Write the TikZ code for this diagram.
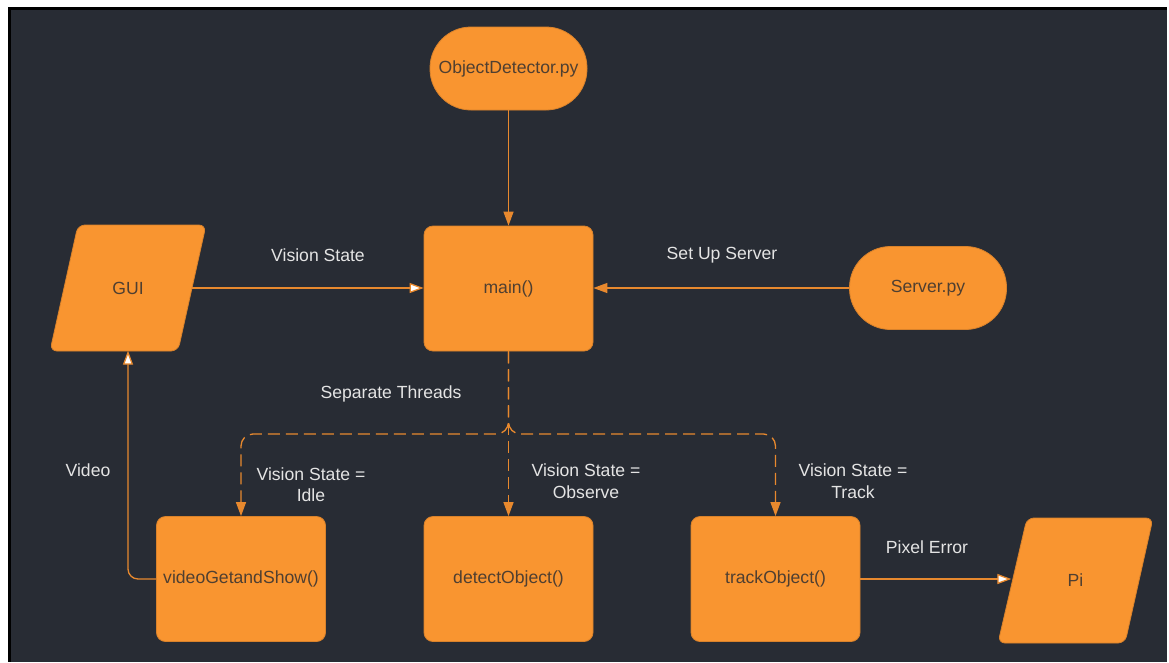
\documentclass[tikz,border=0pt]{standalone}
\usepackage{fontspec}
\setmainfont{Liberation Sans}
\usetikzlibrary{arrows.meta}
\definecolor{bg}{HTML}{282C34}
\definecolor{box}{HTML}{F99530}
\definecolor{boxline}{HTML}{D9822B}
\definecolor{wire}{HTML}{E8892E}
\definecolor{boxtext}{HTML}{4F3F31}
\definecolor{labeltext}{HTML}{E4E4E4}

\begin{document}
\begin{tikzpicture}[x=1pt,y=-1pt,
  every node/.style={font=\fontsize{17.6}{21.5}\selectfont},
  proc/.style={rectangle, rounded corners=9pt, fill=box, draw=boxline, line width=0.8pt,
    minimum width=169pt, minimum height=125pt, text=boxtext, inner sep=0pt},
  term/.style={rectangle, rounded corners=41pt, fill=box, draw=boxline, line width=0.8pt,
    minimum width=157pt, minimum height=83pt, text=boxtext, inner sep=0pt},
  ioshape/.style={rectangle, minimum width=128pt, minimum height=125pt, text=boxtext, inner sep=0pt},
  ioframe/.style={fill=box, draw=boxline, line width=0.8pt, rounded corners=7pt},
  lbl/.style={text=labeltext, align=center},
  wire/.style={draw=wire, line width=1.3pt},
  whitearrow/.style={wire, -{Triangle[length=14pt,width=10pt,fill=white]}},
  fullarrow/.style={wire, -{Triangle[length=14pt,width=10pt,fill=wire]}},
  thread/.style={wire, dash pattern=on 12pt off 6pt, rounded corners=12pt,
    -{Triangle[length=14pt,width=10pt,fill=wire]}}]

% page, frame and canvas
\fill[white] (0,0) rectangle (1169,662);
\fill[black] (8,7) rectangle (1167,662);
\fill[bg] (10.5,9.5) rectangle (1167,662);
\useasboundingbox (0,0) rectangle (1169,662);

% input/output parallelograms
\path[ioframe] (78,225) -- (206,225) -- (178,351) -- (50,351) -- cycle;
\path[ioframe] (1027,518) -- (1153,518) -- (1125,643) -- (998,643) -- cycle;

% blocks
\node[term] (od) at (508.5,68.5) {ObjectDetector.py};
\node[proc] (main) at (508.5,288.5) {main()};
\node[ioshape] (gui) at (128,288) {GUI};
\node[term] (srv) at (928,288) {Server.py};
\node[proc] (vgs) at (241,579) {videoGetandShow()};
\node[proc] (det) at (508.5,579) {detectObject()};
\node[proc] (trk) at (775.5,579) {trackObject()};
\node[ioshape] (pi) at (1075.5,580.5) {Pi};

% solid connectors
\draw[fullarrow] (od) -- (main);
\draw[whitearrow] (gui.east) -- (gui.east -| main.west);
\draw[fullarrow] (srv.west) -- (srv.west -| main.east);
\draw[whitearrow, rounded corners=10pt] (vgs.west) -| (gui.south);
\draw[whitearrow] (trk.east) -- (trk.east -| pi.west);

% thread fan-out
\coordinate (split) at (508.5,434);
\draw[thread] (main.south) -- (split) -| (vgs.north);
\draw[thread] (main.south) -- (det.north);
\draw[thread] (main.south) -- (split) -| (trk.north);

% connector labels
\node[lbl] (l1) at (318,255) {Vision State};
\node[lbl] (l2) at (722,255) {Set Up Server};
\node[lbl] (l3) at (391,394) {Separate Threads};
\node[lbl] (l4) at (88,470) {Video};
\node[lbl] (l5) at (311,484.5) {Vision State =\\Idle};
\node[lbl] (l6) at (586,481) {Vision State =\\Observe};
\node[lbl] (l7) at (853,481) {Vision State =\\Track};
\node[lbl] (l8) at (927,547) {Pixel Error};
\end{tikzpicture}
\end{document}
